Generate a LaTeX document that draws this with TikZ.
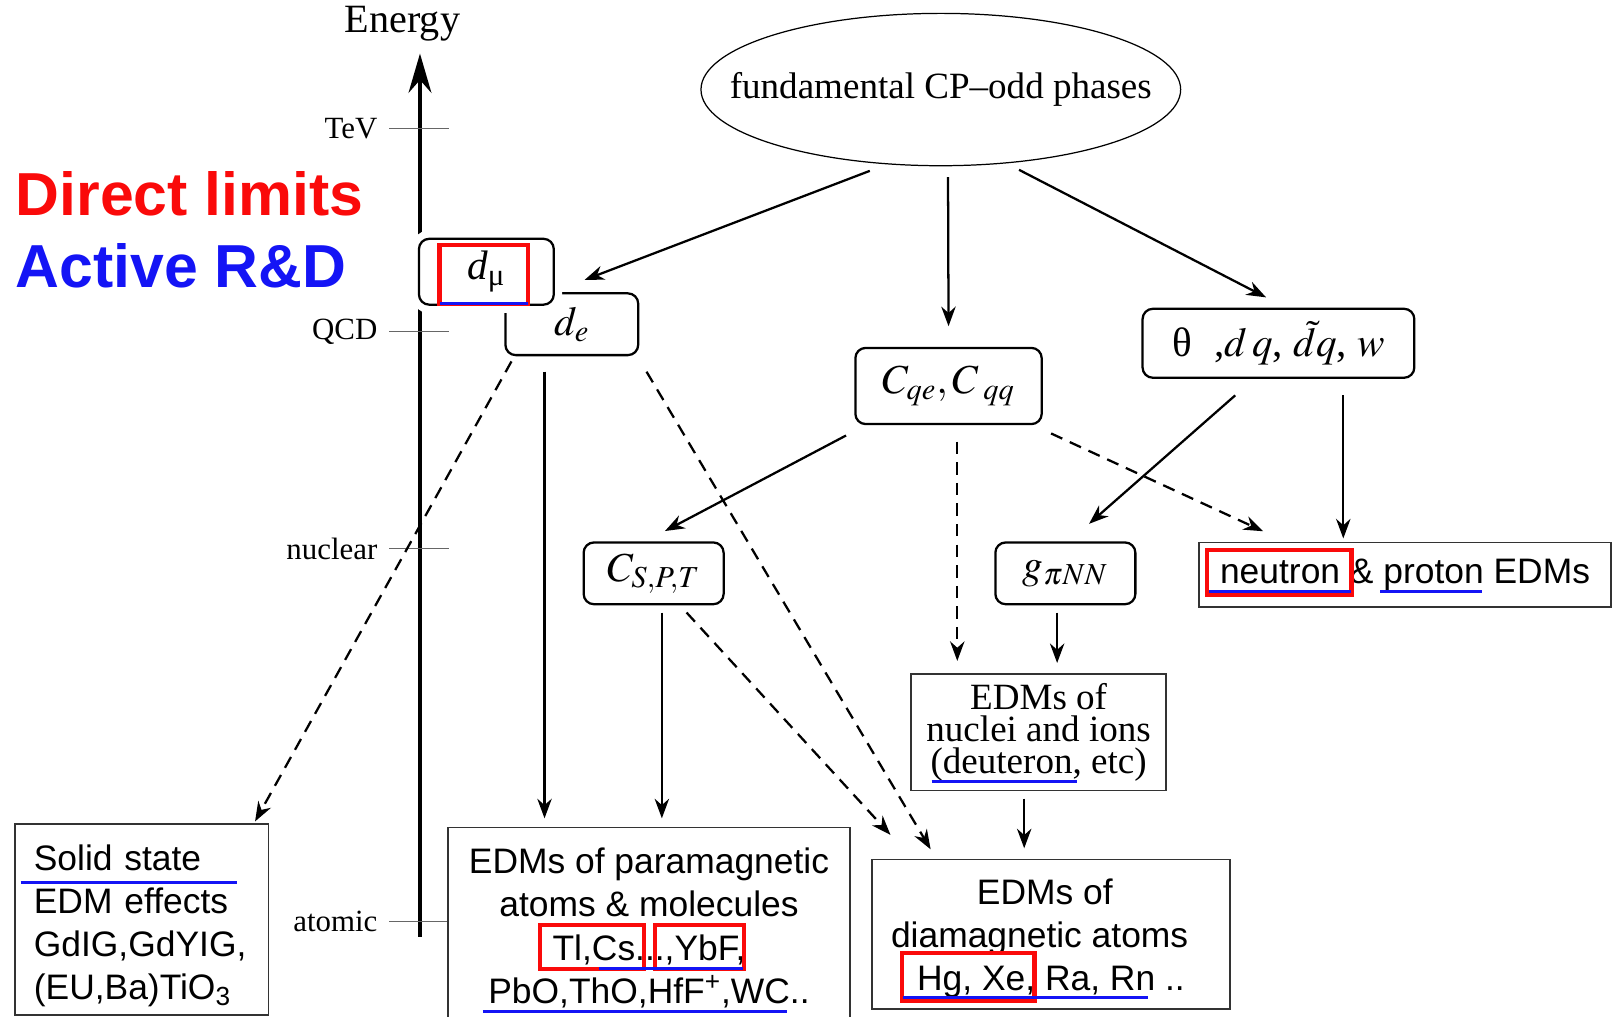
\documentclass[tikz,border=0pt]{standalone}
\usepackage{mathptmx}
\usepackage[no-math]{fontspec}
\setmainfont{Liberation Serif}
\setsansfont{Liberation Sans}
\usetikzlibrary{arrows.meta,calc}
\definecolor{limred}{RGB}{250,10,10}
\definecolor{rdblue}{RGB}{20,20,245}
\begin{document}
\begin{tikzpicture}[x=0.5pt,y=-0.5pt]
\tikzstyle{param}=[draw,rounded corners=5pt,line width=1.1pt,inner sep=0pt,font=\fontsize{20}{22}\selectfont]
\tikzstyle{result}=[draw=black!80,line width=0.9pt,inner sep=0pt,align=center,font=\sffamily\fontsize{17.2}{21}\selectfont]
\tikzstyle{arr}=[->,>={Stealth[length=9.5pt,width=7pt]},line width=1.1pt]
\tikzstyle{darr}=[arr,dash pattern=on 6pt off 4pt]
\tikzstyle{tick}=[draw=black!60,line width=0.6pt]
\tikzstyle{redbox}=[draw=limred,line width=2pt]
\tikzstyle{blueline}=[draw=rdblue,line width=1.5pt]

\useasboundingbox (0,0) rectangle (1568,988);
\clip (0,0) rectangle (1568,988);

% energy scale
\coordinate (axlo) at (408,910);
\coordinate (axhi) at (408,52);
\draw[line width=2.4pt,-{Stealth[length=19pt,width=11pt]}] (axlo) -- (axhi);
\node (energy) at (391,23) {\fontsize{19.5}{20}\selectfont Energy};
\foreach \y/\lbl in {125/TeV,322/QCD,533/nuclear,895/atomic} {
  \draw[tick] (378,\y) -- (436,\y);
  \node[anchor=east,inner sep=0pt,font=\fontsize{15}{16}\selectfont] (lv\lbl) at (367,\y) {\lbl};
}

% legend
\node[anchor=west,inner sep=0pt,text=limred,font=\sffamily\bfseries\fontsize{29.5}{30}\selectfont] (direct) at (15,188) {Direct limits};
\node[anchor=west,inner sep=0pt,text=rdblue,font=\sffamily\bfseries\fontsize{29.5}{30}\selectfont] (active) at (15,258) {Active R\&D};

% sources
\node[font=\fontsize{18}{20}\selectfont] (phases) at (914,87) {fundamental CP--odd phases};
\draw[line width=0.6pt] (phases.center) ellipse (233 and 74);
\node[param,minimum width=64.5pt,minimum height=30pt] (de) at (555.5,315) {$d_e$};
\node[param,fill=white,preaction={draw=white,line width=8pt},minimum width=65.5pt,minimum height=32pt] (dmu) at (472.5,264) {\textit{d}\textsubscript{\fontsize{15}{15}\selectfont μ}};
\node[param,minimum width=90.5pt,minimum height=37pt] (cqq) at (921.5,375) {$C_{qe},C_{\;qq}$};
\node[param,minimum width=132pt,minimum height=33.5pt] (theta) at (1242,333.5) {θ\;\;,$d\,q$, $\tilde{d}q$, $w$};
\node[param,minimum width=68pt,minimum height=30pt] (cspt) at (635,557) {$C_{S,P,T}$};
\node[param,minimum width=68pt,minimum height=30pt] (gpinn) at (1035,557) {$g_{\pi NN}$};

% observables
\node[result,minimum width=200pt,minimum height=31.5pt] (nedm) at (1365,558.5) {neutron \& proton EDMs};
\node[result,font=\fontsize{18}{15.6}\selectfont,minimum width=124pt,minimum height=56.5pt] (nuc) at (1009,711.5) {EDMs of\\nuclei and ions\\(deuteron, etc)};
\node[result,minimum width=174pt,minimum height=72.5pt] (dia) at (1021,907.5) {\rule{0pt}{16.5pt}EDMs of\kern6pt\\diamagnetic atoms\kern11pt\\Hg, Xe, Ra, Rn ..};
\node[result,anchor=north,minimum width=195.5pt,inner ysep=10pt] (para) at (630.5,803) {EDMs of paramagnetic\\atoms \& molecules\\Tl,Cs...,YbF,\\PbO,ThO,HfF\textsuperscript{+},WC..};
\node[result,anchor=north west,align=left,text width=105pt,inner xsep=9pt,minimum height=92.5pt] (solid) at (14,800) {\rule{0pt}{18.5pt}Solid state\\EDM effects\\GdIG,GdYIG,\\(EU,Ba)TiO\textsubscript{3}};

% arrows
\draw[arr] ($(phases)+(-69,79)$) -- ($(de.north)+(12.5,-12)$);
\draw[arr] ($(phases)+(7,85)$) -- ($(cqq.north)+(0,-20)$);
\draw[arr] ($(phases)+(76,78)$) -- ($(theta.north)+(-12,-10)$);
\draw[arr] ($(de.south)+(-26.5,15)$) -- ($(para.north)+(-101.5,-8)$);
\draw[darr] ($(de.south west)+(7,5)$) -- ($(solid.north east)+(-14,-2)$);
\draw[darr] ($(de.south east)+(7,15)$) -- ($(dia.north west)+(58,-9)$);
\draw[arr] ($(cqq.south west)+(-8,10)$) -- ($(cspt.north)+(11,-10)$);
\draw[darr] ($(cqq.south)+(8.5,16)$) -- ($(nuc.north)+(-79,-12)$);
\draw[darr] ($(cqq.south east)+(8,8)$) -- ($(nedm.north west)+(63,-10)$);
\draw[arr] ($(theta.south)+(-42,16)$) -- ($(gpinn.north)+(23,-17)$);
\draw[arr] ($(theta.south)+(63,16)$) -- ($(nedm.north)+(-60,-3)$);
\draw[arr] ($(cspt.south)+(8,7)$) -- ($(para.north)+(12.5,-8)$);
\draw[darr] ($(cspt.south)+(32,7)$) -- ($(dia.north west)+(19,-23)$);
\draw[arr] ($(gpinn.south)+(-8,7)$) -- ($(nuc.north)+(18,-10)$);
\draw[arr] ($(nuc.south)+(-14,7)$) -- ($(dia.north)+(-26,-10)$);

% direct limits and active R&D marks
\draw[redbox] (427,238) rectangle (513,295);
\draw[blueline] (427,295) -- (513,295);
\draw[redbox] (1173,534) rectangle (1313,578);
\draw[blueline] (1175,575) -- (1312,575);
\draw[blueline] (1341,575) -- (1440,575);
\draw[blueline] (905,759) -- (1046,759);
\draw[redbox] (876,926) rectangle (1005,972);
\draw[blueline] (877,969) -- (1115,969);
\draw[redbox] (525,899) rectangle (626,941);
\draw[redbox] (636,899) rectangle (723,941);
\draw[blueline] (582,941) -- (722,941);
\draw[blueline] (469,983) -- (765,983);
\draw[blueline] (20,857) -- (230,857);
\end{tikzpicture}
\end{document}
